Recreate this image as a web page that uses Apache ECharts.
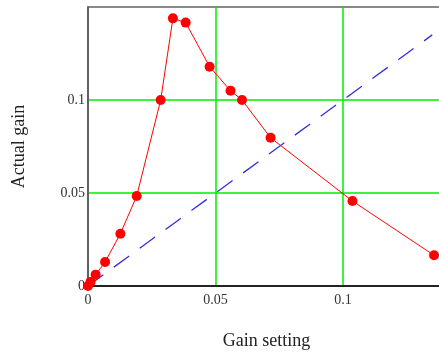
<!DOCTYPE html>
<html>
<head>
<meta charset="utf-8">
<script src="https://cdn.jsdelivr.net/npm/echarts@6/dist/echarts.min.js"></script>
<style>
  html, body { margin: 0; padding: 0; background: #fff; overflow: hidden; }
  #chart { width: 439px; height: 352px; }
</style>
</head>
<body>
<div id="chart"></div>
<script>
// measured gain curve
const gainSetting = [0, 0.001, 0.003, 0.0067, 0.0127, 0.0191, 0.0285, 0.0333, 0.0383, 0.0477, 0.0559, 0.0604, 0.0716, 0.1037, 0.1357];
const actualGain = [0, 0.0022, 0.0061, 0.0129, 0.0281, 0.0484, 0.1, 0.1439, 0.1416, 0.1179, 0.105, 0.1, 0.0797, 0.0457, 0.0165];
// ideal line (actual = setting)
const idealSetting = [0, 0.135];
const idealGain = [0, 0.135];
const tickStep = 0.05;

const font = 'Liberation Serif, Times New Roman, serif';
const chart = echarts.init(document.getElementById('chart'));

const option = {
  animation: false,
  grid: { left: 88, top: 7, width: 357, height: 279, containLabel: false, outerBoundsMode: 'none' },
  xAxis: {
    type: 'value',
    min: 0,
    max: 0.14,
    interval: tickStep,
    name: 'Gain setting',
    nameLocation: 'middle',
    nameGap: 46,
    nameTextStyle: { fontFamily: font, fontSize: 18, color: '#222' },
    axisLine: { lineStyle: { color: '#222', width: 2 } },
    axisTick: { show: false },
    axisLabel: { fontFamily: font, fontSize: 14, color: '#333', margin: 7, showMaxLabel: false },
    splitLine: { show: true, lineStyle: { color: ['#222', '#00ee00', '#00ee00', '#555'], width: 1.5 } }
  },
  yAxis: {
    type: 'value',
    min: 0,
    max: 0.15,
    interval: tickStep,
    name: 'Actual gain',
    nameLocation: 'middle',
    nameGap: 60,
    nameTextStyle: { fontFamily: font, fontSize: 18, color: '#222' },
    axisLine: { lineStyle: { color: '#606060', width: 2 } },
    axisTick: { show: false },
    axisLabel: { fontFamily: font, fontSize: 14, color: '#333', margin: 3, showMaxLabel: false },
    splitLine: { show: true, lineStyle: { color: ['#606060', '#00ee00', '#00ee00', '#606060'], width: 1.5 } }
  },
  series: [
    {
      type: 'line',
      data: idealSetting.map((x, i) => [x, idealGain[i]]),
      showSymbol: false,
      lineStyle: { color: '#3030e0', width: 1.3, type: [19, 13] },
      z: 2
    },
    {
      type: 'line',
      data: gainSetting.map((x, i) => [x, actualGain[i]]),
      symbol: 'circle',
      symbolSize: 10,
      itemStyle: { color: '#ff0000' },
      lineStyle: { color: '#ff0000', width: 1 },
      z: 3
    }
  ]
};

chart.setOption(option);
</script>
</body>
</html>
